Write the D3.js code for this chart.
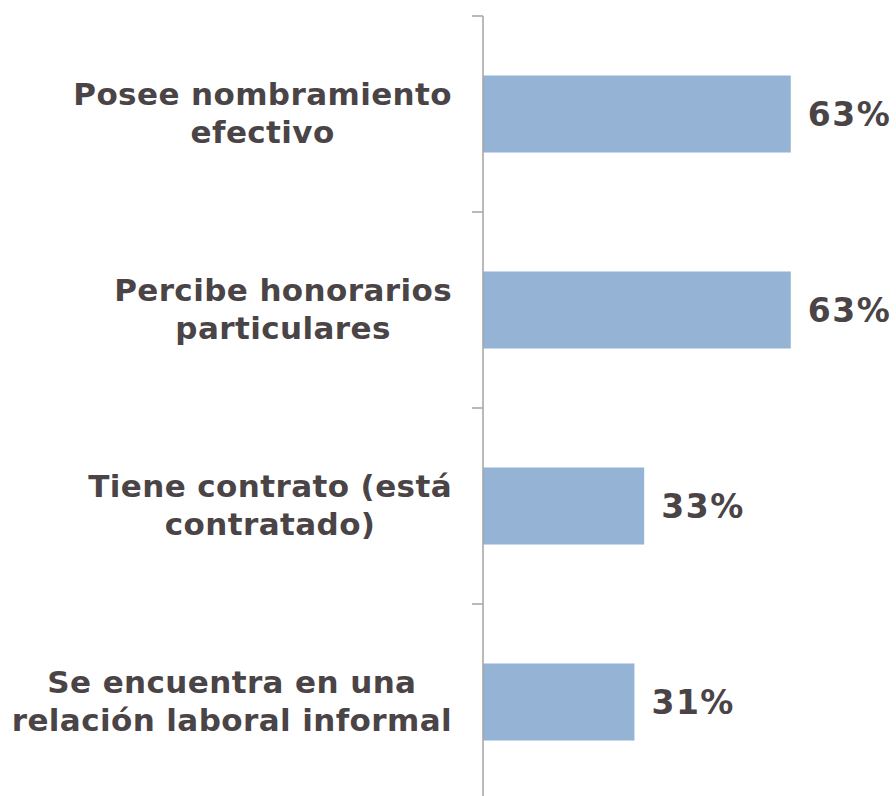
<!DOCTYPE html>
<html>
<head>
<meta charset="utf-8">
<script src="https://cdn.jsdelivr.net/npm/d3@7"></script>
<style>
  html, body { margin: 0; padding: 0; background: #fff; }
  svg { display: block; }
</style>
</head>
<body>
<div id="chart"></div>
<script>
const categories = [
  "Posee nombramiento efectivo",
  "Percibe honorarios particulares",
  "Tiene contrato (está contratado)",
  "Se encuentra en una relación laboral informal"
];
const labelLines = [
  ["Posee nombramiento", "efectivo"],
  ["Percibe honorarios", "particulares"],
  ["Tiene contrato (está", "contratado)"],
  ["Se encuentra en una", "relación laboral informal"]
];
const values = [63, 63, 33, 31];

const width = 896;
const height = 796;
const axisX = 483;
const textColor = "#4a4446";
const font = "'DejaVu Sans', Verdana, sans-serif";

const svg = d3.select("#chart").append("svg")
  .attr("width", width)
  .attr("height", height);

const x = d3.scaleLinear()
  .domain([0, 70])
  .range([axisX, axisX + 70 * 4.885]);

const y = d3.scaleBand()
  .domain(categories)
  .range([16, 800])
  .paddingInner(0.607)
  .paddingOuter(0.3035);

const gap = y.step() - y.bandwidth();
const tickYs = categories.map(c => y(c) - gap / 2).concat([y(categories[categories.length - 1]) + y.bandwidth() + gap / 2]);

// Bars
svg.selectAll("rect.bar")
  .data(values)
  .join("rect")
  .attr("class", "bar")
  .attr("x", x(0))
  .attr("y", (d, i) => y(categories[i]))
  .attr("width", d => x(d) - x(0))
  .attr("height", y.bandwidth())
  .attr("fill", "#95b3d5");

// Axis line + ticks
svg.append("line")
  .attr("x1", axisX).attr("x2", axisX)
  .attr("y1", tickYs[0]).attr("y2", height)
  .attr("stroke", "#a3a3a3")
  .attr("stroke-width", 1.5);

svg.selectAll("line.tick")
  .data(tickYs)
  .join("line")
  .attr("class", "tick")
  .attr("x1", axisX - 11).attr("x2", axisX)
  .attr("y1", d => d).attr("y2", d => d)
  .attr("stroke", "#a3a3a3")
  .attr("stroke-width", 1.5);

// Value labels
svg.selectAll("text.value")
  .data(values)
  .join("text")
  .attr("class", "value")
  .attr("x", d => x(d) + 17)
  .attr("y", (d, i) => y(categories[i]) + y.bandwidth() / 2 + 12)
  .attr("font-family", font)
  .attr("font-weight", "bold")
  .attr("font-size", "33px")
  .attr("letter-spacing", "1.5px")
  .attr("fill", textColor)
  .text(d => d + "%");

// Category labels: centered block, widest line ending near the axis
labelLines.forEach((lines, i) => {
  const cy = y(categories[i]) + y.bandwidth() / 2;
  const g = svg.append("g");
  const texts = lines.map((line, j) => g.append("text")
    .attr("y", cy + (j - (lines.length - 1) / 2) * 38 + 9.5)
    .attr("text-anchor", "middle")
    .attr("font-family", font)
    .attr("font-weight", "bold")
    .attr("font-size", "31px")
    .attr("letter-spacing", "0.4px")
    .attr("fill", textColor)
    .text(line));
  const maxW = d3.max(texts, t => t.node().getComputedTextLength());
  texts.forEach(t => t.attr("x", 452 - maxW / 2));
});
</script>
</body>
</html>
